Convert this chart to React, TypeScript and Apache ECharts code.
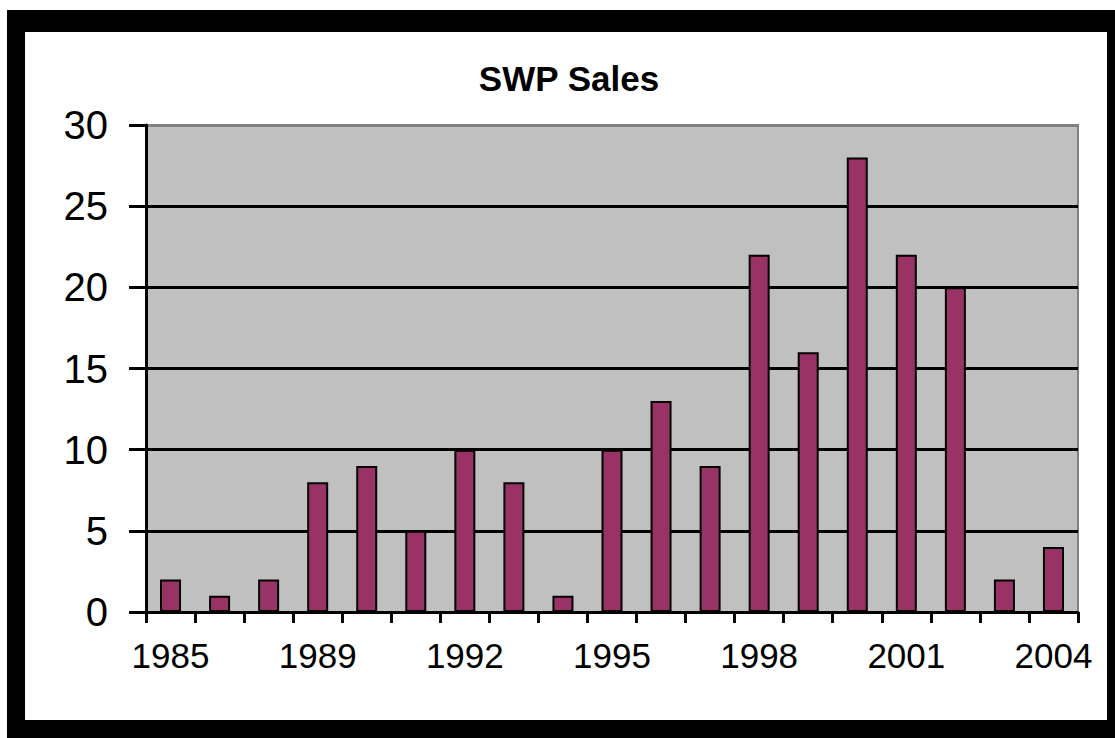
import React, { useEffect, useRef } from "react";
import * as echarts from "echarts";

const years = [
  "1985", "1986", "1987", "1989", "1990", "1991", "1992", "1993", "1994", "1995",
  "1996", "1997", "1998", "1999", "2000", "2001", "2002", "2003", "2004",
];
const sales = [2, 1, 2, 8, 9, 5, 10, 8, 1, 10, 13, 9, 22, 16, 28, 22, 20, 2, 4];
const yTicks = { min: 0, max: 30, interval: 5 };
const titleText = "SWP Sales";

const font = "'Liberation Sans', Arial, sans-serif";

export default function App() {
  const ref = useRef<HTMLDivElement>(null);
  useEffect(() => {
    if (!ref.current) return;
    const chart = echarts.init(ref.current, null, { renderer: "svg" });
    chart.setOption({
      animation: false,
      backgroundColor: "#ffffff",
      graphic: [
        { type: "rect", z: -10, shape: { x: 7, y: 10, width: 1115, height: 735 }, style: { fill: "#000" }, silent: true },
        { type: "rect", z: -9, shape: { x: 25, y: 32, width: 1082, height: 688 }, style: { fill: "#fff" }, silent: true },
      ],
      title: {
        text: titleText,
        left: 564,
        top: 56,
        textAlign: "center",
        textStyle: {
          fontFamily: font,
          fontSize: 35,
          fontWeight: "bold",
          color: "#000",
        },
      },
      grid: {
        left: 146,
        top: 125,
        right: 37,
        bottom: 126,
        show: true,
        backgroundColor: "#c0c0c0",
        borderColor: "#808080",
        borderWidth: 2,
        containLabel: false,
      },
      xAxis: {
        type: "category",
        data: years,
        boundaryGap: true,
        axisLine: { show: true, lineStyle: { color: "#000", width: 3 } },
        axisTick: { show: true, interval: 0, length: 11, lineStyle: { color: "#000", width: 3 } },
        axisLabel: {
          interval: 2,
          margin: 26,
          color: "#000",
          fontFamily: font,
          fontSize: 35,
        },
        splitLine: { show: false },
      },
      yAxis: {
        type: "value",
        min: yTicks.min,
        max: yTicks.max,
        interval: yTicks.interval,
        axisLine: { show: true, lineStyle: { color: "#000", width: 3 } },
        axisTick: { show: true, length: 17, lineStyle: { color: "#000", width: 3 } },
        axisLabel: {
          margin: 38,
          color: "#000",
          fontFamily: font,
          fontSize: 40,
        },
        splitLine: {
          show: true,
          lineStyle: {
            color: ["#000", "#000", "#000", "#000", "#000", "#000", "#808080"],
            width: 3,
          },
        },
      },
      series: [
        {
          type: "bar",
          data: sales,
          barWidth: 21,
          itemStyle: { color: "#993366", borderColor: "#000", borderWidth: 2 },
        },
      ],
    });
    return () => chart.dispose();
  }, []);
  return (
    <div
      ref={ref}
      style={{ position: "fixed", left: 0, top: 0, width: 1115, height: 738 }}
    />
  );
}
